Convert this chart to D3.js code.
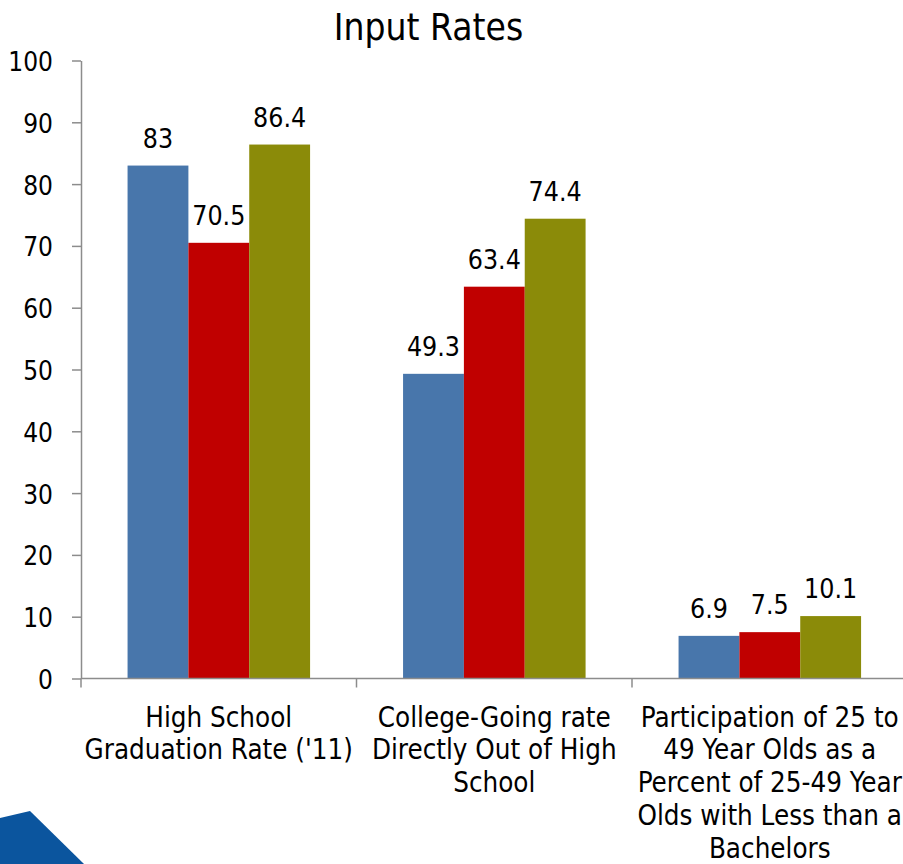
<!DOCTYPE html>
<html>
<head>
<meta charset="utf-8">
<script src="https://cdn.jsdelivr.net/npm/d3@7"></script>
<style>
  html, body { margin: 0; padding: 0; background: #ffffff; }
  svg { display: block; }
  text { font-family: "DejaVu Sans Condensed", "DejaVu Sans", sans-serif; font-stretch: condensed; fill: #000; }
</style>
</head>
<body>
<svg id="chart" width="903" height="864"></svg>
<script>
// ---- Data ----
const title = "Input Rates";
const categories = [
  "High School Graduation Rate ('11)",
  "College-Going rate Directly Out of High School",
  "Participation of 25 to 49 Year Olds as a Percent of 25-49 Year Olds with Less than a Bachelors"
];
const categoryLines = [
  ["High School", "Graduation Rate ('11)"],
  ["College-Going rate", "Directly Out of High", "School"],
  ["Participation of 25 to", "49 Year Olds as a", "Percent of 25-49 Year", "Olds with Less than a", "Bachelors"]
];
const seriesNames = ["Series 1", "Series 2", "Series 3"];
const series1 = [83, 49.3, 6.9];
const series2 = [70.5, 63.4, 7.5];
const series3 = [86.4, 74.4, 10.1];
const seriesColors = ["#4876ab", "#c00000", "#8b8b09"];
const yTicks = [0, 10, 20, 30, 40, 50, 60, 70, 80, 90, 100];

// ---- Layout ----
const svg = d3.select("#chart");
const axisX = 81, y0 = 678.5, yTop = 60.5, bandW = 275.5;

const x = d3.scaleBand().domain(categories).range([axisX, axisX + bandW * 3]).paddingInner(0).paddingOuter(0);
const xs = d3.scaleBand().domain(seriesNames).range([bandW * 0.169, bandW * 0.8315]).padding(0);
const y = d3.scaleLinear().domain([0, 100]).range([y0, yTop]);

const allSeries = [series1, series2, series3];
const rows = [];
categories.forEach((c, i) => {
  seriesNames.forEach((s, j) => rows.push({cat: c, ser: s, v: allSeries[j][i], color: seriesColors[j]}));
});

// Blue decorative corner shape
svg.append("path")
  .attr("d", "M0,818 L30,811 L84,864 L0,864 Z")
  .attr("fill", "#0b559e");

// Title
svg.append("text")
  .attr("x", 428.5).attr("y", 39.5)
  .attr("text-anchor", "middle")
  .style("font-size", "36.8px")
  .text(title);

// Bars
svg.append("g").selectAll("rect").data(rows).join("rect")
  .attr("x", d => x(d.cat) + xs(d.ser))
  .attr("width", xs.bandwidth())
  .attr("y", d => y(d.v))
  .attr("height", d => y(0) - y(d.v))
  .attr("fill", d => d.color);

// Value labels
svg.append("g").selectAll("text").data(rows).join("text")
  .attr("x", d => x(d.cat) + xs(d.ser) + xs.bandwidth() / 2)
  .attr("y", d => y(d.v) - 18)
  .attr("text-anchor", "middle")
  .style("font-size", "26.5px")
  .text(d => d.v);

// Y axis
const yAxis = d3.axisLeft(y).tickValues(yTicks).tickSize(9).tickPadding(19).tickSizeOuter(0);
const gy = svg.append("g").attr("transform", `translate(${axisX},0)`).call(yAxis);
gy.select(".domain").attr("stroke", "#8c8c8c").attr("stroke-width", 1.5);
gy.selectAll(".tick line").attr("stroke", "#8c8c8c").attr("stroke-width", 1.5);
gy.selectAll(".tick text")
  .attr("fill", "#000")
  .attr("dy", null).attr("y", 10)
  .style("font-size", "26px")
  .style("font-family", "'DejaVu Sans Condensed', 'DejaVu Sans', sans-serif");

// X axis
const gx = svg.append("g").attr("transform", `translate(0,${y0})`);
gx.append("line").attr("x1", axisX).attr("x2", axisX + bandW * 3).attr("y1", 0).attr("y2", 0)
  .attr("stroke", "#8c8c8c").attr("stroke-width", 1.5);
gx.selectAll("line.tk").data(categories).join("line").attr("class", "tk")
  .attr("x1", d => x(d)).attr("x2", d => x(d)).attr("y1", 0).attr("y2", 9)
  .attr("stroke", "#8c8c8c").attr("stroke-width", 1.5);

// Category labels
const cl = svg.append("g").selectAll("text").data(categories).join("text")
  .attr("text-anchor", "middle")
  .style("font-size", "27.5px");
cl.each(function(d, i) {
  d3.select(this).selectAll("tspan").data(categoryLines[i]).join("tspan")
    .attr("x", x(d) + x.bandwidth() / 2)
    .attr("y", (t, k) => 726.5 + k * 32.75)
    .text(t => t);
});
</script>
</body>
</html>
